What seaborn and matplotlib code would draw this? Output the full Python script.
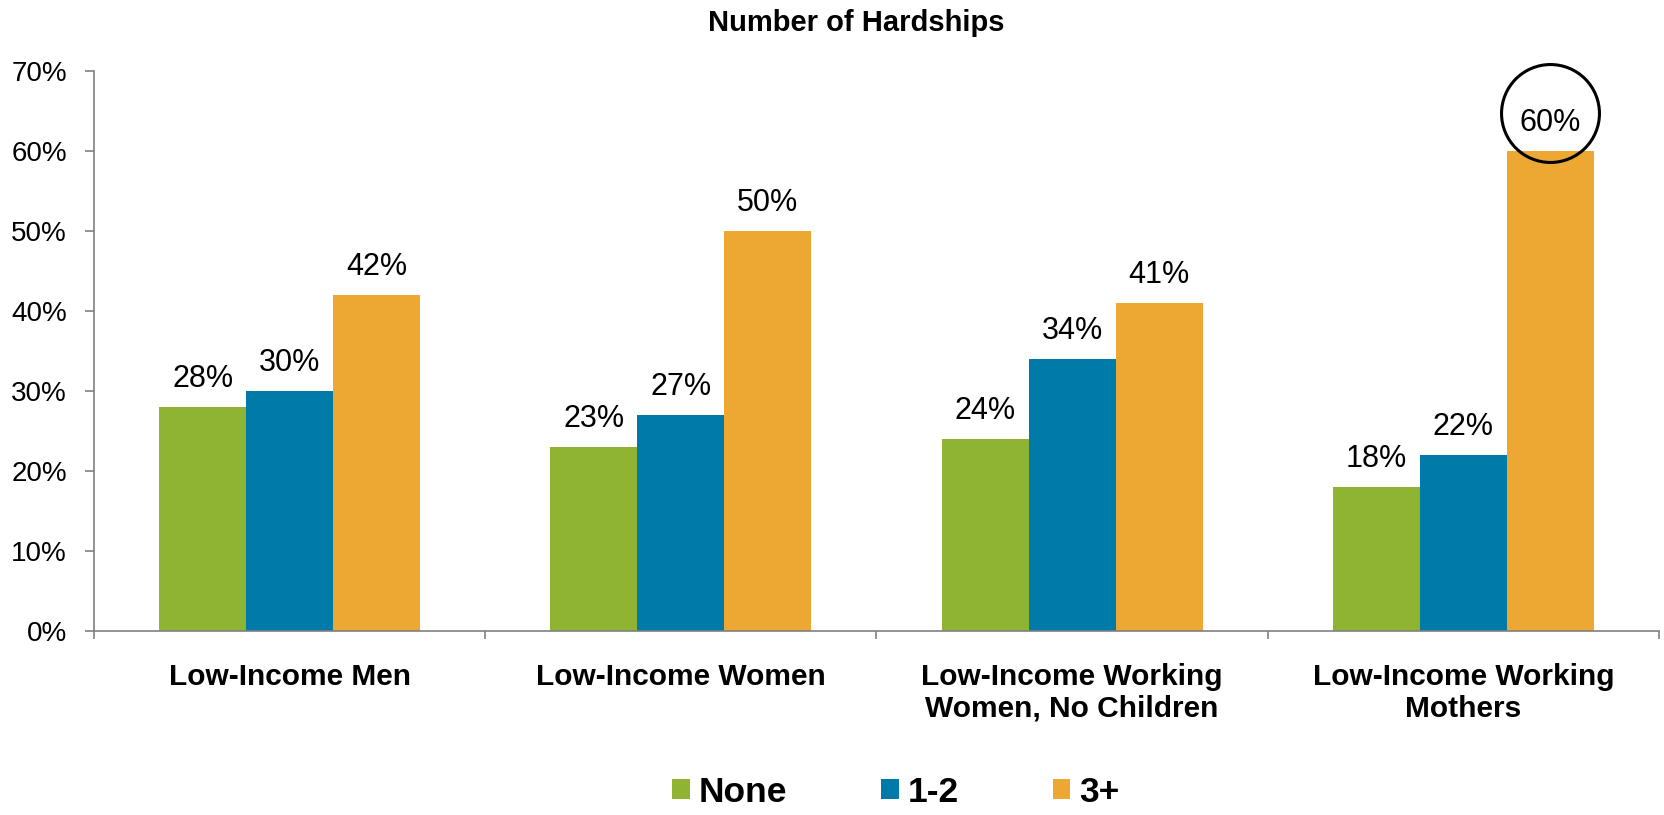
import matplotlib
matplotlib.use("Agg")
import matplotlib.pyplot as plt
import seaborn as sns
import pandas as pd

categories = ["Low-Income Men", "Low-Income Women",
              "Low-Income Working\nWomen, No Children", "Low-Income Working\nMothers"]
series = ["None", "1-2", "3+"]
none_vals = [28, 23, 24, 18]
one_two_vals = [30, 27, 34, 22]
three_plus_vals = [42, 50, 41, 60]
yticks = [0, 10, 20, 30, 40, 50, 60, 70]
colors = ["#8FB432", "#007AA8", "#EDA733"]
title = "Number of Hardships"

rows = []
for s, vals in zip(series, [none_vals, one_two_vals, three_plus_vals]):
    for c, v in zip(categories, vals):
        rows.append({"category": c, "series": s, "value": v})
df = pd.DataFrame(rows)

sns.set_theme(style="white")
plt.rcParams["font.family"] = ["Liberation Sans", "DejaVu Sans"]
plt.rcParams["text.color"] = "black"
plt.rcParams["xtick.labelcolor"] = "black"
plt.rcParams["ytick.labelcolor"] = "black"

fig = plt.figure(figsize=(16.65, 8.15), dpi=100)
ax = fig.add_axes([94/1665, 1-631/815, (1659-94)/1665, (631-70.7)/815])

sns.barplot(data=df, x="category", y="value", hue="series", order=categories,
            hue_order=series, palette=colors, width=0.667, gap=0, errorbar=None,
            saturation=1, linewidth=0, ax=ax, legend=True)

ax.set_ylim(0, 70)
ax.set_xlim(-0.5, len(categories) - 0.5)
ax.set_yticks(yticks)
ax.set_yticklabels([f"{t}%" for t in yticks], fontsize=20)
ax.set_xlabel("")
ax.set_ylabel("")
for side in ["top", "right"]:
    ax.spines[side].set_visible(False)
for side in ["left", "bottom"]:
    ax.spines[side].set_color("#808080")
    ax.spines[side].set_linewidth(1.2)
ax.tick_params(axis="y", which="major", direction="out", length=6.5, width=1.2,
               color="#808080", pad=13, left=True)
ax.set_xticks(range(len(categories)))
ax.set_xticklabels(categories, fontsize=21.5, fontweight="bold", linespacing=1.18)
ax.tick_params(axis="x", which="major", length=0, pad=23)
ax.set_xticks([i - 0.5 for i in range(len(categories) + 1)], minor=True)
ax.tick_params(axis="x", which="minor", direction="out", length=6, width=1.2,
               color="#808080", bottom=True)

# data labels
for cont in ax.containers:
    ax.bar_label(cont, labels=[f"{v:.0f}%" for v in cont.datavalues],
                 padding=9, fontsize=22)

# circle around the highest value
last = ax.containers[-1]
idx = int(pd.Series(last.datavalues).idxmax())
p = last.patches[idx]
cx = p.get_x() + p.get_width() / 2
ax.plot([cx], [p.get_height() + 4.74], marker="o", markersize=70.5, markerfacecolor="none",
        markeredgecolor="black", markeredgewidth=2.2, clip_on=False)

# legend
handles, labels = ax.get_legend_handles_labels()
ax.get_legend().remove()
fig.legend(handles, labels, loc="lower center", bbox_to_anchor=(0.538, -0.016), ncol=3,
           frameon=False, prop={"weight": "bold", "size": 25.5}, borderpad=0.05,
           handlelength=0.5, handleheight=0.5, handletextpad=0.25, columnspacing=2.65)

fig.text(0.514, 1 - 23/815, title, ha="center", va="center", fontsize=21, fontweight="bold")

fig.savefig("out.png", dpi=100)
